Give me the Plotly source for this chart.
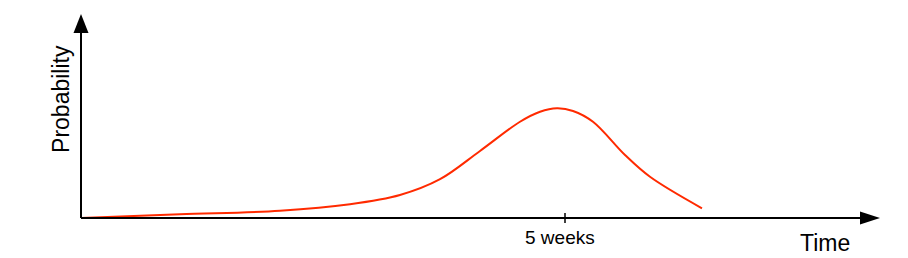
import plotly.graph_objects as go

# Data: time in weeks, probability in relative units (peak ~ 1)
weeks = [0, 1.023, 2.056, 2.779, 3.295, 3.709, 4.122, 4.535, 4.742, 4.917, 5.083, 5.289,
         5.620, 5.878, 6.415]
probability = [0, 0.034, 0.066, 0.126, 0.211, 0.356, 0.615, 0.883, 0.975, 1.006, 0.982, 0.883,
               0.578, 0.378, 0.089]
tick_weeks = [5]
tick_labels = ["5 weeks"]
x_title = "Time"
y_title = "Probability"

X_END = 8.254   # arrow tip of time axis
Y_END = 1.872   # arrow tip of probability axis

fig = go.Figure()
fig.add_trace(go.Scatter(
    x=weeks, y=probability, mode="lines",
    line=dict(color="#ff2a00", width=2, shape="spline", smoothing=1.0),
    hoverinfo="skip", showlegend=False,
))

shapes = [
    dict(type="line", xref="x", yref="y", x0=0, y0=0, x1=X_END - 0.15, y1=0,
         line=dict(color="black", width=2)),
    dict(type="line", xref="x", yref="y", x0=0, y0=0, x1=0, y1=Y_END - 0.12,
         line=dict(color="black", width=2)),
    # arrowheads (pixel-sized)
    dict(type="path", xref="x", yref="y", xsizemode="pixel", ysizemode="pixel",
         xanchor=X_END, yanchor=0, path="M0,0 L-20,6.5 L-20,-6.5 Z",
         fillcolor="black", line=dict(color="black", width=0)),
    dict(type="path", xref="x", yref="y", xsizemode="pixel", ysizemode="pixel",
         xanchor=0, yanchor=Y_END, path="M0,0 L-7.5,-19 L7.5,-19 Z",
         fillcolor="black", line=dict(color="black", width=0)),
]
for tv in tick_weeks:
    shapes.append(dict(type="line", xref="x", yref="y", ysizemode="pixel", yanchor=0,
                       x0=tv, x1=tv, y0=-5, y1=5, line=dict(color="black", width=1.5)))

annotations = []
for tv, tl in zip(tick_weeks, tick_labels):
    annotations.append(dict(x=tv - 0.052, y=-0.183, xref="x", yref="y", text=tl, showarrow=False,
                            font=dict(size=19, color="black"), xanchor="center", yanchor="middle"))
annotations.append(dict(x=7.686, y=-0.229, xref="x", yref="y", text=x_title, showarrow=False,
                        font=dict(size=23, color="black"), xanchor="center", yanchor="middle"))
annotations.append(dict(x=-0.207, y=1.092, xref="x", yref="y", text=y_title, showarrow=False,
                        textangle=-90, font=dict(size=23, color="black"),
                        xanchor="center", yanchor="middle"))

fig.update_layout(
    width=908, height=258,
    margin=dict(l=0, r=0, t=0, b=0),
    paper_bgcolor="white", plot_bgcolor="white",
    font=dict(family="Liberation Sans, Arial, sans-serif"),
    xaxis=dict(range=[-0.8368, 8.5434], visible=False, fixedrange=True),
    yaxis=dict(range=[-0.367, 2.0], visible=False, fixedrange=True),
    shapes=shapes, annotations=annotations,
)

fig.write_html("out.html")
